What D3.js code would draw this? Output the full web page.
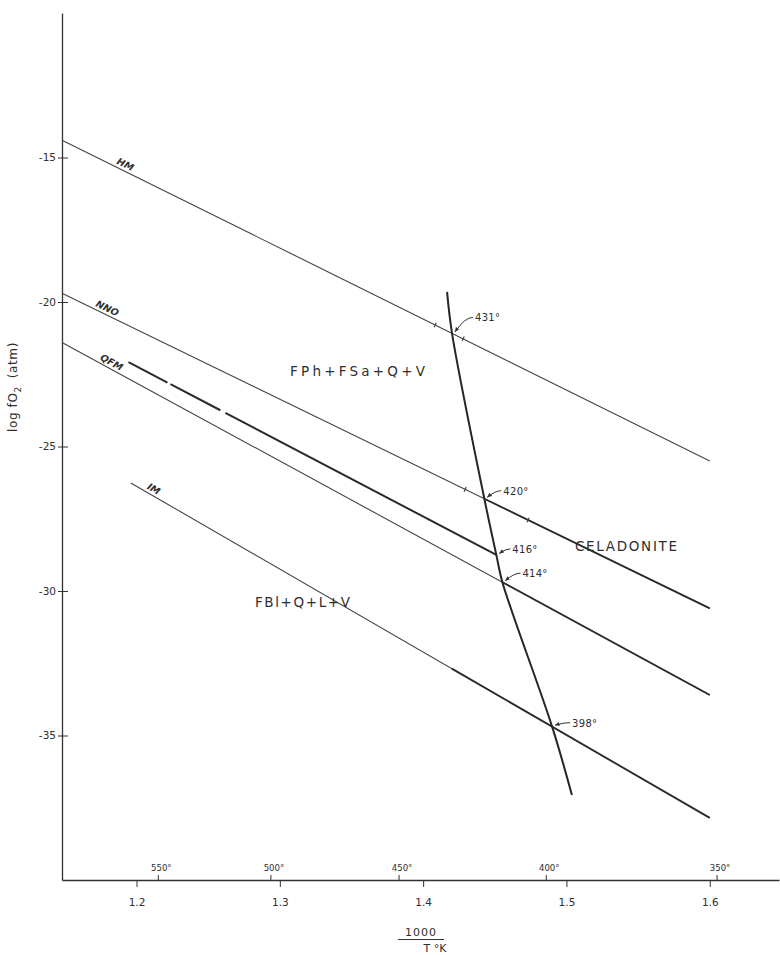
<!DOCTYPE html>
<html>
<head>
<meta charset="utf-8">
<script src="https://cdn.jsdelivr.net/npm/d3@7"></script>
<style>
  body { margin: 0; background: #ffffff; }
  svg { display: block; }
  text { font-family: "DejaVu Sans", "Liberation Sans", sans-serif; fill: #2e2e2e; }
</style>
</head>
<body>
<svg id="chart" width="780" height="955"></svg>
<script>
// ---- axis values -------------------------------------------------------
const xTicks = [1.2, 1.3, 1.4, 1.5, 1.6];                 // 1000 / T(K)
const xTickLabels = ["1.2", "1.3", "1.4", "1.5", "1.6"];
const yTicks = [-15, -20, -25, -30, -35];                 // log fO2 (atm)
const tempTicks = [550, 500, 450, 400, 350];              // degrees C

// ---- oxygen buffer curves (1000/T, log fO2) ----------------------------
const bufferNames = ["HM", "NNO", "QFM", "IM"];
const bufferStart = [[1.148, -14.4], [1.148, -19.7], [1.148, -21.4], [1.196, -26.26]];
const bufferEnd   = [[1.600, -25.5], [1.600, -30.6], [1.600, -33.6], [1.600, -37.85]];
const bufferLabelAt = [1.1902, 1.1777, 1.1805, 1.2098];   // 1000/T where each name sits
// part of each buffer drawn heavier (celadonite field boundaries), 1000/T from..to
const heavyFrom = [null, 1.4427, 1.4553, 1.420];

// ---- heavy boundary between NNO and QFM (drawn in pieces) ---------------
const boundaryStart = [1.1944, -22.08];
const boundaryEnd   = [1.4511, -28.75];
const boundaryPieces = [[1.1944, 1.2216], [1.2237, 1.2585], [1.2620, 1.4511]];

// ---- celadonite breakdown curve ----------------------------------------
const breakdownTop    = [1.4167, -19.65];
const breakdownBottom = [1.5038, -37.06];
const pointTemps  = [431, 420, 416, 414, 398];            // degrees C
const pointOn     = ["HM", "NNO", "boundary", "QFM", "IM"];
const pointLabels = ["431°", "420°", "416°", "414°", "398°"];

// short bracket marks on the buffers (1000/T)
const bracketHM  = [1.4084, 1.4279];
const bracketNNO = [1.4293, 1.4732];

// field names
const fieldNames = ["FPh+FSa+Q+V", "CELADONITE", "FBl+Q+L+V"];

// ---- scales ------------------------------------------------------------
const svg = d3.select("#chart");
const x = d3.scaleLinear().domain([1.148, 1.6483]).range([62, 779]);
const y = d3.scaleLinear().domain([-40, -10]).range([880, 13]);
const ink = "#333";

// interpolation along a straight buffer
function lineAt(a, b, v) {
  const t = (v - a[0]) / (b[0] - a[0]);
  return a[1] + t * (b[1] - a[1]);
}
function curveFor(name) {
  if (name === "boundary") return [boundaryStart, boundaryEnd];
  const i = bufferNames.indexOf(name);
  return [bufferStart[i], bufferEnd[i]];
}

// ---- axes --------------------------------------------------------------
const yAxis = svg.append("g")
  .attr("transform", `translate(${x(1.148)},0)`)
  .call(d3.axisLeft(y).tickValues(yTicks).tickSize(4).tickSizeOuter(0)
    .tickPadding(2).tickFormat(d => "-" + Math.abs(d)));
yAxis.select(".domain").attr("stroke", ink).attr("stroke-width", 1.3);
yAxis.selectAll(".tick line").attr("x1", 6).attr("stroke", ink).attr("stroke-width", 1);
yAxis.selectAll(".tick text").attr("font-size", 10.5).attr("fill", "#2e2e2e")
  .style("font-family", '"DejaVu Sans", sans-serif');

const xAxis = svg.append("g")
  .attr("transform", `translate(0,${y(-40)})`)
  .call(d3.axisBottom(x).tickValues(xTicks).tickSize(7).tickSizeOuter(0)
    .tickPadding(12).tickFormat((d, i) => xTickLabels[i]));
xAxis.select(".domain").attr("stroke", ink).attr("stroke-width", 1.3);
xAxis.selectAll(".tick line").attr("stroke", ink).attr("stroke-width", 1);
xAxis.selectAll(".tick text").attr("font-size", 10.5).attr("fill", "#2e2e2e")
  .style("font-family", '"DejaVu Sans", sans-serif');

// temperature scale on top of the x axis
const tAxis = svg.append("g")
  .attr("transform", `translate(0,${y(-40)})`)
  .call(d3.axisTop(x).tickValues(tempTicks.map(t => 1000 / (t + 273.15)))
    .tickSize(5).tickSizeOuter(0).tickPadding(4)
    .tickFormat((d, i) => tempTicks[i] + "°"));
tAxis.select(".domain").remove();
tAxis.selectAll(".tick line").attr("stroke", ink).attr("stroke-width", 1);
tAxis.selectAll(".tick text").attr("font-size", 8.5).attr("dx", 3).attr("fill", "#333")
  .style("font-family", '"DejaVu Sans", sans-serif');

// axis titles
const yTitle = svg.append("text")
  .attr("transform", `translate(17,387) rotate(-90)`)
  .attr("text-anchor", "middle").attr("font-size", 12).attr("letter-spacing", 0.6);
yTitle.append("tspan").text("log f");
yTitle.append("tspan").text("O");
yTitle.append("tspan").text("2").attr("font-size", 9).attr("dy", 4);
yTitle.append("tspan").text("(atm)").attr("dx", 8).attr("dy", -4);

svg.append("text").attr("x", 421).attr("y", 936).attr("text-anchor", "middle")
  .attr("font-size", 11).attr("letter-spacing", 1).text("1000");
svg.append("line").attr("x1", 398).attr("x2", 444).attr("y1", 939.5).attr("y2", 939.5)
  .attr("stroke", ink).attr("stroke-width", 1.1);
svg.append("text").attr("x", 435).attr("y", 952).attr("text-anchor", "middle")
  .attr("font-size", 11).text("T °K");

// ---- buffers -----------------------------------------------------------
const line = d3.line().x(d => x(d[0])).y(d => y(d[1]));
const plot = svg.append("g");

bufferNames.forEach((name, i) => {
  const a = bufferStart[i], b = bufferEnd[i];
  plot.append("path").attr("d", line([a, b]))
    .attr("fill", "none").attr("stroke", "#444").attr("stroke-width", 1.1);
  if (heavyFrom[i] !== null) {
    const v0 = heavyFrom[i];
    plot.append("path").attr("d", line([[v0, lineAt(a, b, v0)], b]))
      .attr("fill", "none").attr("stroke", "#2c2c2c").attr("stroke-width", 1.8);
  }
  // name along the line
  const v = bufferLabelAt[i];
  const px = x(v), py = y(lineAt(a, b, v));
  const ang = Math.atan2(y(b[1]) - y(a[1]), x(b[0]) - x(a[0])) * 180 / Math.PI;
  plot.append("text")
    .attr("transform", `translate(${px},${py}) rotate(${ang}) translate(0,-3)`)
    .attr("text-anchor", "middle").attr("font-size", 9.5).attr("font-style", "italic")
    .attr("font-weight", "bold").attr("fill", "#3a3a3a").text(name);
});

// heavy boundary in pieces
boundaryPieces.forEach(([v0, v1]) => {
  plot.append("path")
    .attr("d", line([[v0, lineAt(boundaryStart, boundaryEnd, v0)],
                     [v1, lineAt(boundaryStart, boundaryEnd, v1)]]))
    .attr("fill", "none").attr("stroke", "#2a2a2a").attr("stroke-width", 2);
});

// bracket marks
function bracket(name, vals) {
  const [a, b] = curveFor(name);
  const ang = Math.atan2(y(b[1]) - y(a[1]), x(b[0]) - x(a[0]));
  const nx = -Math.sin(ang), ny = Math.cos(ang);
  vals.forEach(v => {
    const px = x(v), py = y(lineAt(a, b, v));
    plot.append("line")
      .attr("x1", px - nx * 2.5).attr("y1", py - ny * 2.5)
      .attr("x2", px + nx * 2.5).attr("y2", py + ny * 2.5)
      .attr("stroke", "#444").attr("stroke-width", 1.2);
  });
}
bracket("HM", bracketHM);
bracket("NNO", bracketNNO);

// ---- breakdown curve through the labelled points -------------------------
const points = pointTemps.map((t, i) => {
  const v = 1000 / (t + 273.15);
  const [a, b] = curveFor(pointOn[i]);
  return [v, lineAt(a, b, v)];
});
const curvePts = [breakdownTop, ...points, breakdownBottom];
plot.append("path")
  .attr("d", d3.line().x(d => x(d[0])).y(d => y(d[1])).curve(d3.curveCatmullRom.alpha(0.5))(curvePts))
  .attr("fill", "none").attr("stroke", "#262626").attr("stroke-width", 2);

// point labels with leaders
svg.append("defs").append("marker")
  .attr("id", "arr").attr("viewBox", "0 0 10 10").attr("refX", 9).attr("refY", 5)
  .attr("markerWidth", 5).attr("markerHeight", 5).attr("orient", "auto")
  .append("path").attr("d", "M0,1 L10,5 L0,9 Z").attr("fill", "#333");

const labelOffset = [[23, -12], [19, -4], [16, -2], [20, -5], [20, 0]];
points.forEach((p, i) => {
  const px = x(p[0]), py = y(p[1]);
  const [dx, dy] = labelOffset[i];
  const sx = px + dx - 2, sy = py + dy - 4;
  const ex = px + 3, ey = py - 1.5;
  plot.append("path")
    .attr("d", `M${sx},${sy} Q${(sx + ex) / 2 + 1},${sy} ${ex},${ey}`)
    .attr("fill", "none").attr("stroke", "#333").attr("stroke-width", 1)
    .attr("marker-end", "url(#arr)");
  plot.append("text").attr("x", px + dx).attr("y", py + dy)
    .attr("font-size", 10).attr("letter-spacing", 0.3).text(pointLabels[i]);
});

// ---- field names -------------------------------------------------------
const fieldPos = [[290, 376, 135], [575, 551, 102], [255, 607, 95]];
fieldNames.forEach((n, i) => {
  const [fx, fy, w] = fieldPos[i];
  svg.append("text").attr("x", fx).attr("y", fy)
    .attr("font-size", 13.5).attr("textLength", w).attr("lengthAdjust", "spacing")
    .attr("fill", "#2a2a2a").text(n);
});
</script>
</body>
</html>
